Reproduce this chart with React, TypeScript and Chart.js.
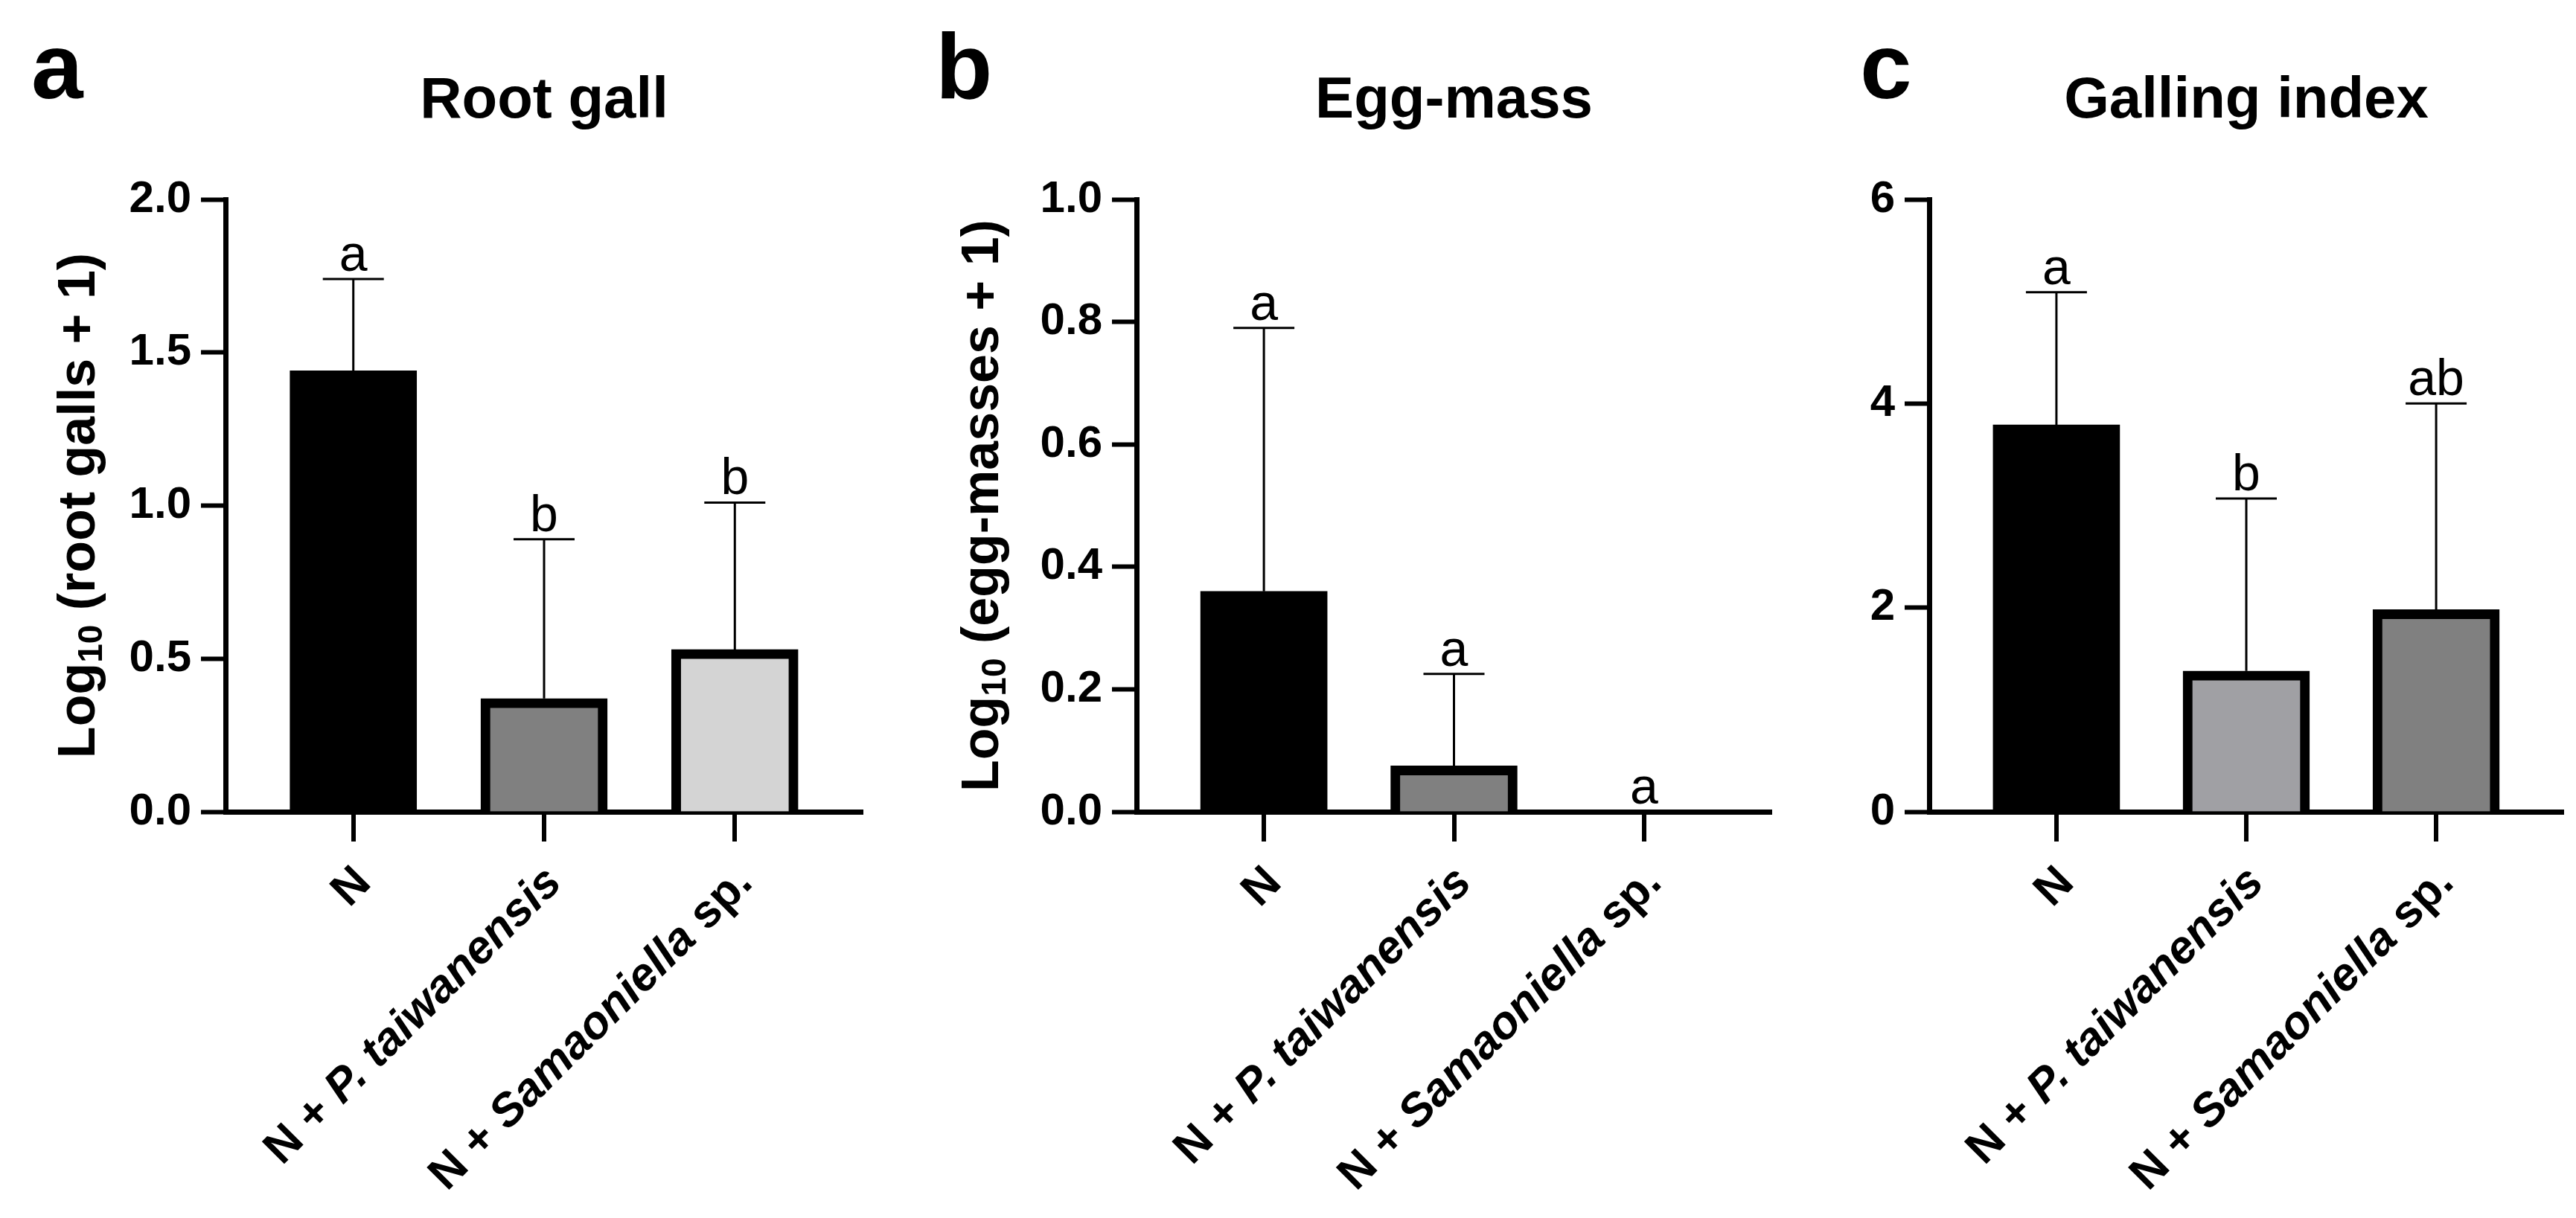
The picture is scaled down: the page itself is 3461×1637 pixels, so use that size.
import React, { useEffect, useRef } from "react";
import { Chart, registerables } from "chart.js";

Chart.register(...registerables);

// ---------- data ----------
const categories = ["N", "N + P. taiwanensis", "N + Samaoniella sp."];
const italicParts = ["", "P. taiwanensis", "Samaoniella"];

const rootGallMean = [1.44, 0.37, 0.53];
const rootGallUpper = [1.74, 0.89, 1.01];
const rootGallLetters = ["a", "b", "b"];

const eggMassMean = [0.36, 0.075, 0];
const eggMassUpper = [0.79, 0.225, 0];
const eggMassLetters = ["a", "a", "a"];

const gallingMean = [3.79, 1.38, 1.98];
const gallingUpper = [5.09, 3.07, 4.0];
const gallingLetters = ["a", "b", "ab"];

const panelLetters = ["a", "b", "c"];
const panelTitles = ["Root gall", "Egg-mass", "Galling index"];
const yTitleSuffixes = [" (root galls + 1)", " (egg-masses + 1)", ""];
const yMaxes = [2, 1, 6];
const ySteps = [0.5, 0.2, 2];
const yDecimals = [1, 1, 0];

// ---------- styling ----------
const FONT = "'Liberation Sans', Arial, sans-serif";

type Panel = {
  mean: number[];
  upper: number[];
  letters: string[];
  colors: string[];
  borders: number[];
  left: number;
  width: number;
  yAxisWidth: number;
  padRight: number;
  letterX: number;
  yTitleX: number;
  idx: number;
};

const panels: Panel[] = [
  {
    mean: rootGallMean, upper: rootGallUpper, letters: rootGallLetters,
    colors: ["#000000", "#808080", "#d4d4d4"], borders: [0, 13, 13],
    left: 0, width: 1200, yAxisWidth: 303, padRight: 41, letterX: 42, yTitleX: 108, idx: 0,
  },
  {
    mean: eggMassMean, upper: eggMassUpper, letters: eggMassLetters,
    colors: ["#000000", "#808080", "#d4d4d4"], borders: [0, 13, 13],
    left: 1200, width: 1200, yAxisWidth: 327, padRight: 20, letterX: 57, yTitleX: 122, idx: 1,
  },
  {
    mean: gallingMean, upper: gallingUpper, letters: gallingLetters,
    colors: ["#000000", "#a0a0a4", "#808080"], borders: [0, 13, 13],
    left: 2400, width: 1061, yAxisWidth: 192, padRight: 17, letterX: 99, yTitleX: 0, idx: 2,
  },
];

function makeOverlay(p: Panel) {
  return {
    id: "overlay" + p.idx,
    afterDraw(chart: any) {
      const ctx: CanvasRenderingContext2D = chart.ctx;
      const xs = chart.scales.x;
      const ys = chart.scales.y;
      const area = chart.chartArea;
      ctx.save();
      ctx.fillStyle = "#000";
      ctx.strokeStyle = "#000";

      // x tick marks under each category
      for (let i = 0; i < categories.length; i++) {
        const x = Math.round(xs.getPixelForValue(i));
        ctx.fillRect(x - 3, area.bottom + 4, 6, 36);
      }

      // error bars + significance letters
      for (let i = 0; i < p.mean.length; i++) {
        const x = xs.getPixelForValue(i);
        const y0 = ys.getPixelForValue(p.mean[i]);
        const y1 = ys.getPixelForValue(p.upper[i]);
        ctx.lineWidth = 3;
        if (p.upper[i] > p.mean[i]) {
          ctx.beginPath();
          ctx.moveTo(x, y0);
          ctx.lineTo(x, y1);
          ctx.moveTo(x - 41, y1);
          ctx.lineTo(x + 41, y1);
          ctx.stroke();
        }
        ctx.font = `normal 68px ${FONT}`;
        ctx.textAlign = "center";
        ctx.textBaseline = "alphabetic";
        ctx.fillText(p.letters[i], x, y1 - 11);
      }

      // panel letter
      ctx.font = `bold 125px ${FONT}`;
      ctx.textAlign = "left";
      ctx.textBaseline = "alphabetic";
      ctx.fillText(panelLetters[p.idx], p.letterX, 132);

      // panel title
      ctx.font = `bold 78px ${FONT}`;
      ctx.textAlign = "center";
      ctx.fillText(panelTitles[p.idx], xs.getPixelForValue(1), 158);

      // y title with subscript
      if (yTitleSuffixes[p.idx]) {
        const mainFont = `bold 70px ${FONT}`;
        const subFont = `bold 46px ${FONT}`;
        ctx.font = mainFont;
        const w1 = ctx.measureText("Log").width;
        const w3 = ctx.measureText(yTitleSuffixes[p.idx]).width;
        ctx.font = subFont;
        const w2 = ctx.measureText("10").width;
        const total = w1 + w2 + w3;
        ctx.save();
        ctx.translate(p.yTitleX, (area.top + area.bottom) / 2);
        ctx.rotate(-Math.PI / 2);
        ctx.textAlign = "left";
        ctx.textBaseline = "middle";
        let cx = -total / 2;
        ctx.font = mainFont;
        ctx.fillText("Log", cx, 0);
        cx += w1;
        ctx.font = subFont;
        ctx.fillText("10", cx, 16);
        cx += w2;
        ctx.font = mainFont;
        ctx.fillText(yTitleSuffixes[p.idx], cx, 0);
        ctx.restore();
      }

      // rotated x labels with italic parts
      for (let i = 0; i < categories.length; i++) {
        const label = categories[i];
        const it = italicParts[i];
        const segs: { t: string; italic: boolean }[] = [];
        if (it && label.includes(it)) {
          const k = label.indexOf(it);
          if (k > 0) segs.push({ t: label.slice(0, k), italic: false });
          segs.push({ t: it, italic: true });
          if (k + it.length < label.length) segs.push({ t: label.slice(k + it.length), italic: false });
        } else segs.push({ t: label, italic: false });
        let total = 0;
        const widths = segs.map((s) => {
          ctx.font = `${s.italic ? "italic " : ""}bold 62px ${FONT}`;
          const w = ctx.measureText(s.t).width;
          total += w;
          return w;
        });
        const x = xs.getPixelForValue(i);
        ctx.save();
        ctx.translate(x + 14, area.bottom + 86);
        ctx.rotate(-Math.PI / 4);
        ctx.textAlign = "left";
        ctx.textBaseline = "middle";
        let cx = -total;
        segs.forEach((s, j) => {
          ctx.font = `${s.italic ? "italic " : ""}bold 62px ${FONT}`;
          ctx.fillText(s.t, cx, 0);
          cx += widths[j];
        });
        ctx.restore();
      }
      ctx.restore();
    },
  };
}

function PanelChart({ p }: { p: Panel }) {
  const ref = useRef<HTMLCanvasElement | null>(null);
  useEffect(() => {
    if (!ref.current) return;
    const chart = new Chart(ref.current, {
      type: "bar",
      data: {
        datasets: [
          {
            data: p.mean.map((y, i) => ({ x: i, y })),
            backgroundColor: p.colors,
            borderColor: "#000000",
            borderWidth: p.borders,
            barThickness: 170,
            borderSkipped: "start",
          } as any,
        ],
      },
      options: {
        animation: false,
        responsive: false,
        maintainAspectRatio: false,
        devicePixelRatio: 1,
        layout: { padding: { left: 0, right: p.padRight, top: 268, bottom: 506 } },
        plugins: { legend: { display: false }, tooltip: { enabled: false }, title: { display: false } },
        scales: {
          x: {
            type: "linear",
            min: -0.67,
            max: 2.67,
            offset: false,
            ticks: { display: false, stepSize: 1 },
            afterBuildTicks: (s: any) => {
              s.ticks = categories.map((_, i) => ({ value: i }));
            },
            afterFit: (s: any) => {
              s.height = 40;
            },
            grid: { display: false },
            border: { display: true, color: "#000", width: 7 },
          },
          y: {
            min: 0,
            max: yMaxes[p.idx],
            ticks: {
              stepSize: ySteps[p.idx],
              color: "#000",
              padding: 13,
              font: { family: FONT, weight: "bold", size: 60 },
              callback: (v: any) => Number(v).toFixed(yDecimals[p.idx]),
            },
            afterFit: (s: any) => {
              s.width = p.yAxisWidth;
            },
            grid: { display: true, drawOnChartArea: false, drawTicks: true, tickLength: 33, tickWidth: 6, tickColor: "#000" },
            border: { display: true, color: "#000", width: 7 },
          },
        },
      } as any,
      plugins: [makeOverlay(p)],
    });
    return () => chart.destroy();
  }, []);
  return (
    <canvas
      ref={ref}
      width={p.width}
      height={1637}
      style={{ position: "absolute", left: p.left, top: 0, width: p.width, height: 1637 }}
    />
  );
}

export default function App() {
  useEffect(() => {
    document.body.style.margin = "0";
  }, []);
  return (
    <div style={{ position: "absolute", left: 0, top: 0, width: 3461, height: 1637, background: "#fff", overflow: "hidden" }}>
      {panels.map((p) => (
        <PanelChart key={p.idx} p={p} />
      ))}
    </div>
  );
}
